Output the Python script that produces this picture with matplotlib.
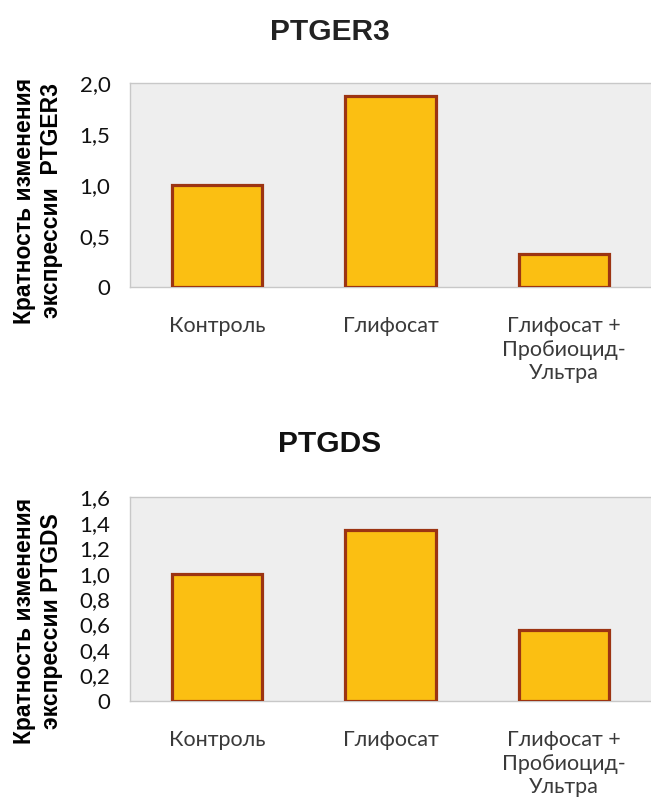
import matplotlib.pyplot as plt

plt.rcParams['font.family'] = ['Lato', 'DejaVu Sans']

categories = ['Контроль', 'Глифосат', 'Глифосат +\nПробиоцид-\nУльтра']
ptger3 = [1.0, 1.87, 0.32]
ptgds = [1.0, 1.34, 0.56]
ptger3_ticks = [0, 0.5, 1.0, 1.5, 2.0]
ptger3_ticklabels = ['0', '0,5', '1,0', '1,5', '2,0']
ptgds_ticks = [0, 0.2, 0.4, 0.6, 0.8, 1.0, 1.2, 1.4, 1.6]
ptgds_ticklabels = ['0', '0,2', '0,4', '0,6', '0,8', '1,0', '1,2', '1,4', '1,6']

face = '#fbbf12'
edge = '#9c3412'
bold_font = ['Liberation Sans', 'DejaVu Sans']

fig = plt.figure(figsize=(6.51, 8.02), dpi=100)
ax1 = fig.add_axes([0.1997, 0.642, 0.8003, 0.2545])
ax2 = fig.add_axes([0.1997, 0.126, 0.8003, 0.254])


def draw(ax, values, ticks, ticklabels, ymax):
    ax.set_facecolor('#eeeeee')
    x = range(len(categories))
    ax.bar(x, values, width=0.52, color=face, edgecolor=edge, linewidth=2.3,
           zorder=3)
    ax.set_xlim(-0.5, len(categories) - 0.5)
    ax.set_ylim(0, ymax)
    ax.set_xticks(list(x))
    ax.set_xticklabels(categories, fontsize=15.5, color='#3a3a3a',
                       linespacing=1.22)
    ax.set_yticks(ticks)
    ax.set_yticklabels(ticklabels, fontsize=16, color='#111111')
    ax.tick_params(axis='x', length=0, pad=21)
    ax.tick_params(axis='y', length=0, pad=14)
    for s in ['top', 'left', 'bottom']:
        ax.spines[s].set_color('#c8c8c8')
        ax.spines[s].set_linewidth(1.0)
    ax.spines['right'].set_visible(False)


draw(ax1, ptger3, ptger3_ticks, ptger3_ticklabels, 2.0)
draw(ax2, ptgds, ptgds_ticks, ptgds_ticklabels, 1.6)

fig.text(0.507, 0.96, 'PTGER3', ha='center', va='center', fontsize=21.5,
         fontweight='bold', color='#222222', family=bold_font)
fig.text(0.507, 0.447, 'PTGDS', ha='center', va='center', fontsize=21.5,
         fontweight='bold', color='#111111', family=bold_font)

fig.text(0.058, 0.75, 'Кратность изменения\nэкспрессии  PTGER3', rotation=90,
         ha='center', va='center', fontsize=16.5, fontweight='bold',
         linespacing=1.25, family=bold_font)
fig.text(0.058, 0.226, 'Кратность изменения\nэкспрессии PTGDS', rotation=90,
         ha='center', va='center', fontsize=16.5, fontweight='bold',
         linespacing=1.25, family=bold_font)

fig.savefig('out.png', dpi=100)
